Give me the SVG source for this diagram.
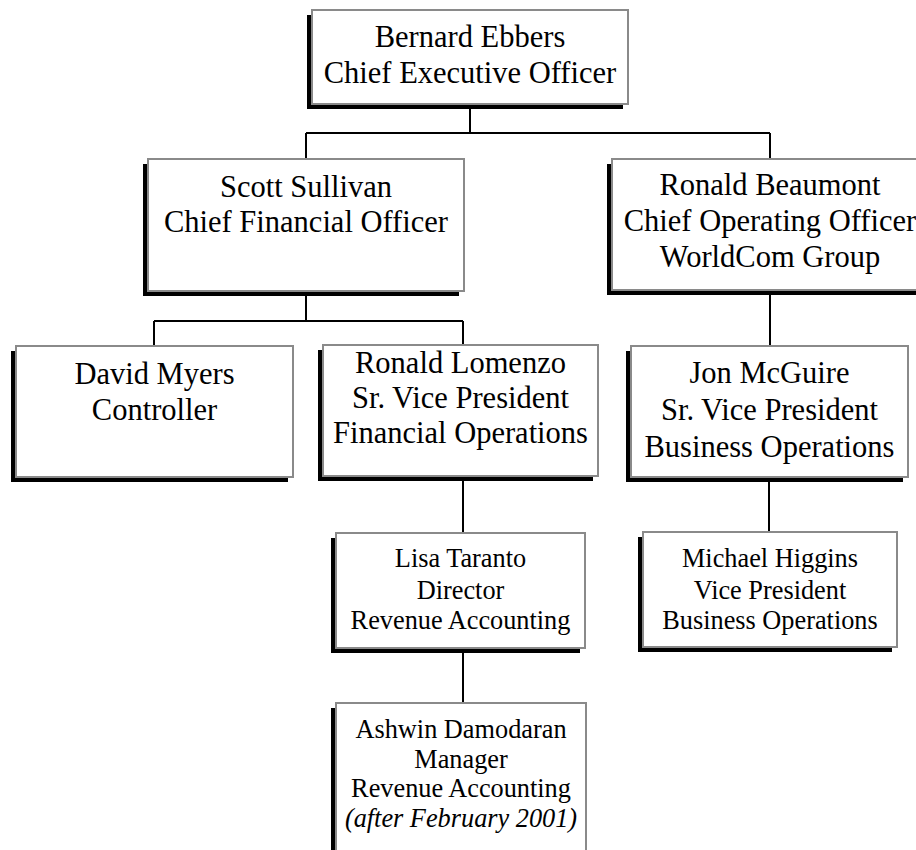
<svg xmlns="http://www.w3.org/2000/svg" width="916" height="850" viewBox="0 0 916 850">
<style>
.sh{fill:#000}
.bx{fill:#fff;stroke:#8a8a8a;stroke-width:2}
.t{font-family:"Liberation Serif","Times New Roman",serif;font-size:30.5px;fill:#000;text-anchor:middle}
.s{font-family:"Liberation Serif","Times New Roman",serif;font-size:26.3px;fill:#000;text-anchor:middle}
.i{font-style:italic}
.c{stroke:#000;stroke-width:2;fill:none}
</style>
<rect width="916" height="850" fill="#fff"/>
<g id="connectors">
<path class="c" d="M470 104V133M306 133H770M306 133V159M770 133V159"/>
<path class="c" d="M306 291V321M154 321H463M154 321V346M463 321V345"/>
<path class="c" d="M770 290V346"/>
<path class="c" d="M463 476V533"/>
<path class="c" d="M769 477V532"/>
<path class="c" d="M463 648V703"/>
</g>
<g id="ebbers">
<rect class="sh" x="307" y="15" width="316" height="94"/>
<rect class="bx" x="312" y="10" width="316" height="94"/>
<text class="t" x="470" y="47">Bernard Ebbers</text>
<text class="t" x="470" y="83">Chief Executive Officer</text>
</g>
<g id="sullivan">
<rect class="sh" x="143" y="164" width="316" height="132"/>
<rect class="bx" x="148" y="159" width="316" height="132"/>
<text class="t" x="306" y="197">Scott Sullivan</text>
<text class="t" x="306" y="232">Chief Financial Officer</text>
</g>
<g id="beaumont">
<rect class="sh" x="607" y="164" width="316" height="131"/>
<rect class="bx" x="612" y="159" width="316" height="131"/>
<text class="t" x="770" y="195">Ronald Beaumont</text>
<text class="t" x="770" y="231">Chief Operating Officer</text>
<text class="t" x="770" y="267">WorldCom Group</text>
</g>
<g id="myers">
<rect class="sh" x="11" y="351" width="277" height="131"/>
<rect class="bx" x="16" y="346" width="277" height="131"/>
<text class="t" x="154.5" y="384">David Myers</text>
<text class="t" x="154.5" y="420">Controller</text>
</g>
<g id="lomenzo">
<rect class="sh" x="318" y="350" width="275" height="131"/>
<rect class="bx" x="323" y="345" width="275" height="131"/>
<text class="t" x="460.5" y="373">Ronald Lomenzo</text>
<text class="t" x="460.5" y="408">Sr. Vice President</text>
<text class="t" x="460.5" y="443">Financial Operations</text>
</g>
<g id="mcguire">
<rect class="sh" x="626" y="351" width="277" height="131"/>
<rect class="bx" x="631" y="346" width="277" height="131"/>
<text class="t" x="769.5" y="383">Jon McGuire</text>
<text class="t" x="769.5" y="420">Sr. Vice President</text>
<text class="t" x="769.5" y="457">Business Operations</text>
</g>
<g id="taranto">
<rect class="sh" x="331" y="538" width="249" height="115"/>
<rect class="bx" x="336" y="533" width="249" height="115"/>
<text class="s" x="460.5" y="567">Lisa Taranto</text>
<text class="s" x="460.5" y="599">Director</text>
<text class="s" x="460.5" y="629">Revenue Accounting</text>
</g>
<g id="higgins">
<rect class="sh" x="638" y="537" width="254" height="115"/>
<rect class="bx" x="643" y="532" width="254" height="115"/>
<text class="s" x="770" y="567">Michael Higgins</text>
<text class="s" x="770" y="599">Vice President</text>
<text class="s" x="770" y="629">Business Operations</text>
</g>
<g id="damodaran">
<rect class="sh" x="331" y="708" width="250" height="150"/>
<rect class="bx" x="336" y="703" width="250" height="150"/>
<text class="s" x="461" y="738">Ashwin Damodaran</text>
<text class="s" x="461" y="768">Manager</text>
<text class="s" x="461" y="797">Revenue Accounting</text>
<text class="s i" x="461" y="827">(after February 2001)</text>
</g>
</svg>
